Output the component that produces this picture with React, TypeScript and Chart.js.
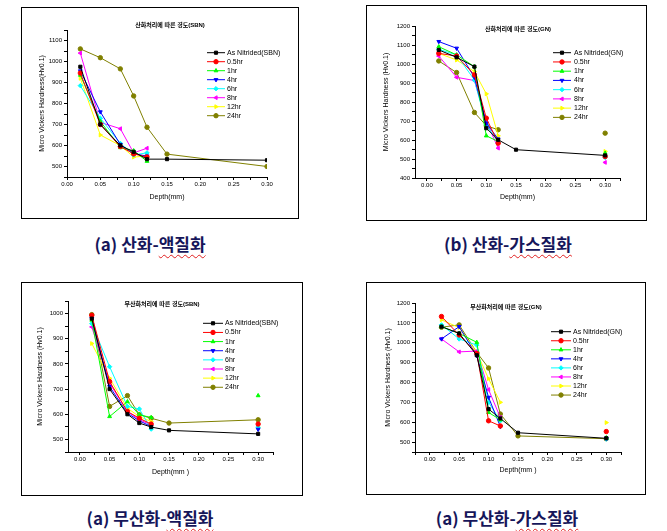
import React, { useEffect, useRef } from 'react';
import { Chart, registerables } from 'chart.js';
import { drawPoint } from 'chart.js/helpers';

Chart.register(...registerables);

// ---------------- data ----------------
const DEPTH = [0.02, 0.05, 0.08, 0.1, 0.12, 0.15, 0.3];
const NAMES_SBN = ['As Nitrided(SBN)', '0.5hr', '1hr', '4hr', '6hr', '8hr', '12hr', '24hr'];
const NAMES_GN = ['As Nitrided(GN)', '0.5hr', '1hr', '4hr', '6hr', '8hr', '12hr', '24hr'];

// (a) 산화-액질화
const OL_ASN = [975, 700, 600, 570, 535, 535, 530];
const OL_05 = [945, 700, 595, 560, 545, null, null];
const OL_1 = [935, 715, 590, 575, 525, null, null];
const OL_4 = [955, 760, 605, 560, 550, null, null];
const OL_6 = [885, 730, 610, 555, 565, null, null];
const OL_8 = [1040, 710, 680, 565, 587, null, null];
const OL_12 = [920, 650, 600, 545, 550, null, null];
const OL_24 = [1060, 1018, 965, 836, 687, 559, 500];

// (b) 산화-가스질화
const OG_ASN = [1074, 1035, 986, 662, 601, 549, 519];
const OG_05 = [1056, 1042, 943, 715, 583, null, 513];
const OG_1 = [1091, 1048, 986, 622, 592, null, 531];
const OG_4 = [1118, 1083, 930, 689, 605, null, 513];
const OG_6 = [1077, 1048, 916, 680, 587, null, 508];
const OG_8 = [1042, 930, 913, 697, 557, null, 482];
const OG_12 = [1056, 1021, 960, 843, 622, null, 540];
const OG_24 = [1016, 955, 745, 675, 654, null, 636];

// (a) 무산화-액질화
const NL_ASN = [980, 700, 600, 565, 549, 536, 522];
const NL_05 = [993, 730, 611, 584, 561, null, 561];
const NL_1 = [974, 591, 650, 598, 587, null, 674];
const NL_4 = [980, 710, 604, 574, 551, null, 540];
const NL_6 = [960, 789, 631, 621, 541, null, 548];
const NL_8 = [947, 723, 611, 578, 558, null, 552];
const NL_12 = [881, 743, 624, 591, 571, null, 548];
const NL_24 = [996, 631, 674, 598, 584, 565, 578];

// (a) 무산화-가스질화
const NG_ASN = [1081, 1047, 937, 666, 619, 547, 519];
const NG_05 = [1132, 1039, 946, 607, 581, null, 553];
const NG_1 = [1081, 1047, 1002, 649, 612, null, 522];
const NG_4 = [1019, 1081, 934, 725, 578, null, 520];
const NG_6 = [1090, 1019, 988, 700, 607, null, 515];
const NG_8 = [1019, 954, 958, 764, 624, null, 518];
const NG_12 = [1115, 1076, 951, 819, 700, null, 598];
const NG_24 = [1078, 1090, 951, 873, 641, 531, 517];

// ---------------- styles ----------------
const FONT = "'Liberation Sans', Arial, 'Noto Sans CJK KR', sans-serif";
const COLORS = ['#000000', '#ff0000', '#00ff00', '#0000ff', '#00ffff', '#ff00ff', '#ffff00', '#808000'];
const MARKERS: { style: any; rot: number }[] = [
  { style: 'rect', rot: 0 },
  { style: 'circle', rot: 0 },
  { style: 'triangle', rot: 0 },
  { style: 'triangle', rot: 180 },
  { style: 'rectRot', rot: 0 },
  { style: 'triangle', rot: -90 },
  { style: 'triangle', rot: 90 },
  { style: 'circle', rot: 0 },
];
const PR = 2.2;

type Cfg = {
  frame: { l: number; t: number; r: number; b: number };
  plot: { l: number; r: number; t: number; b: number };
  yTitleX: number;
  xTitleY: number;
  xMin: number;
  xMax: number;
  yMin: number;
  yMax: number;
  title: string;
  titleX: number;
  titleY: number;
  yTitle: string;
  xTitle: string;
  legend: { x0: number; x1: number; tx: number; y0: number; gap: number };
  names: string[];
  series: (number | null)[][];
};

const CHARTS: Cfg[] = [
  {
    frame: { l: 21, t: 7, r: 298, b: 218 },
    plot: { l: 67, r: 267, t: 30, b: 177 },
    yTitleX: 42, xTitleY: 197,
    xMin: 0, xMax: 0.3, yMin: 450, yMax: 1150,
    title: '산화처리에 따른 경도(SBN)', titleX: 170, titleY: 25,
    yTitle: 'Micro Vickers Hardness(Hv0.1)', xTitle: 'Depth(mm)',
    legend: { x0: 207, x1: 225, tx: 227, y0: 52.7, gap: 9.0 },
    names: NAMES_SBN,
    series: [OL_ASN, OL_05, OL_1, OL_4, OL_6, OL_8, OL_12, OL_24],
  },
  {
    frame: { l: 366, t: 5, r: 646, b: 220 },
    plot: { l: 415, r: 620, t: 26, b: 178 },
    yTitleX: 386, xTitleY: 197.3,
    xMin: -0.02, xMax: 0.325, yMin: 400, yMax: 1200,
    title: '산화처리에 따른 경도(GN)', titleX: 518, titleY: 29,
    yTitle: 'Micro Vickers Hardness (Hv0.1)', xTitle: 'Depth(mm)',
    legend: { x0: 553, x1: 571, tx: 574, y0: 52.7, gap: 9.24 },
    names: NAMES_GN,
    series: [OG_ASN, OG_05, OG_1, OG_4, OG_6, OG_8, OG_12, OG_24],
  },
  {
    frame: { l: 21, t: 282, r: 302, b: 495 },
    plot: { l: 68, r: 273, t: 301, b: 452 },
    yTitleX: 40, xTitleY: 471.7,
    xMin: -0.02, xMax: 0.325, yMin: 450, yMax: 1050,
    title: '무산화처리에 따른 경도(SBN)', titleX: 162, titleY: 304,
    yTitle: 'Micro Vickers Hardness (Hv0.1)', xTitle: 'Depth(mm )',
    legend: { x0: 203, x1: 223, tx: 225, y0: 323.3, gap: 9.14 },
    names: NAMES_SBN,
    series: [NL_ASN, NL_05, NL_1, NL_4, NL_6, NL_8, NL_12, NL_24],
  },
  {
    frame: { l: 366, t: 282, r: 645, b: 494 },
    plot: { l: 415, r: 621, t: 303, b: 452 },
    yTitleX: 388, xTitleY: 470,
    xMin: -0.025, xMax: 0.325, yMin: 450, yMax: 1200,
    title: '무산화처리에 따른 경도(GN)', titleX: 506, titleY: 307,
    yTitle: 'Micro Vickers Hardness (Hv0.1)', xTitle: 'Depth(mm )',
    legend: { x0: 551, x1: 571, tx: 573, y0: 331.7, gap: 9.05 },
    names: NAMES_GN,
    series: [NG_ASN, NG_05, NG_1, NG_4, NG_6, NG_8, NG_12, NG_24],
  },
];

const CAPTIONS = [
  { pre: '(a) 산화-', wavy: '액질화', cx: 150, cy: 244 },
  { pre: '(b) 산화-', wavy: '가스질화', cx: 508, cy: 244 },
  { pre: '(a) 무산화-', wavy: '액질화', cx: 150, cy: 518 },
  { pre: '(a) 무산화-', wavy: '가스질화', cx: 507, cy: 518 },
];

function HardnessChart({ cfg }: { cfg: Cfg }) {
  const ref = useRef<HTMLCanvasElement>(null);
  const W = cfg.frame.r - cfg.frame.l - 1;
  const H = cfg.frame.b - cfg.frame.t - 1;
  const ox = cfg.frame.l + 1;
  const oy = cfg.frame.t + 1;

  useEffect(() => {
    const plotL = cfg.plot.l - ox;
    const plotR = cfg.plot.r - ox;
    const plotT = cfg.plot.t - oy;
    const plotB = cfg.plot.b - oy;
    const titleLH = 7 * 1.2;
    const yScaleLeft = cfg.yTitleX - ox - titleLH / 2;
    const yWidth = plotL - yScaleLeft;
    const xScaleBottom = cfg.xTitleY - oy + titleLH / 2;
    const xHeight = xScaleBottom - plotB;

    const decor = {
      id: 'decor' + cfg.title,
      afterDatasetsDraw(chart: any) {
        const ctx = chart.ctx as CanvasRenderingContext2D;
        ctx.save();
        ctx.fillStyle = '#000';
        ctx.textAlign = 'center';
        ctx.textBaseline = 'middle';
        ctx.font = `bold 6px ${FONT}`;
        ctx.fillText(cfg.title, cfg.titleX - ox, cfg.titleY - oy);
        ctx.font = `7px ${FONT}`;
        ctx.textAlign = 'left';
        const lg = cfg.legend;
        chart.data.datasets.forEach((ds: any, i: number) => {
          const y = lg.y0 - oy + i * lg.gap;
          ctx.strokeStyle = ds.borderColor;
          ctx.lineWidth = 1;
          ctx.beginPath();
          ctx.moveTo(lg.x0 - ox, y);
          ctx.lineTo(lg.x1 - ox, y);
          ctx.stroke();
          ctx.fillStyle = ds.backgroundColor;
          drawPoint(ctx, { pointStyle: ds.pointStyle, rotation: ds.rotation || 0, radius: PR, borderWidth: 1 } as any, (lg.x0 + lg.x1) / 2 - ox, y);
          ctx.fillStyle = '#000';
          ctx.fillText(ds.label, lg.tx - ox, y);
        });
        ctx.restore();
      },
    };

    const datasets = cfg.series.map((vals, i) => ({
      label: cfg.names[i],
      data: DEPTH.map((d, k) => ({ x: d, y: vals[k] })),
      borderColor: COLORS[i],
      backgroundColor: COLORS[i],
      pointBackgroundColor: COLORS[i],
      pointBorderColor: COLORS[i],
      pointStyle: MARKERS[i].style,
      rotation: MARKERS[i].rot,
      pointRotation: MARKERS[i].rot,
      pointRadius: PR,
      pointBorderWidth: 1,
      borderWidth: 1,
      tension: 0,
      spanGaps: false,
      fill: false,
    }));

    const chart = new Chart(ref.current as HTMLCanvasElement, {
      type: 'line',
      data: { datasets } as any,
      plugins: [decor as any],
      options: {
        responsive: false,
        animation: false,
        events: [],
        layout: { padding: { left: yScaleLeft, right: W - plotR, top: plotT, bottom: H - xScaleBottom } },
        plugins: { legend: { display: false }, title: { display: false }, tooltip: { enabled: false } },
        scales: {
          x: {
            type: 'linear',
            min: cfg.xMin,
            max: cfg.xMax,
            afterFit: (s: any) => { s.height = xHeight; },
            border: { display: true, color: '#000', width: 1 },
            grid: { drawOnChartArea: false, drawTicks: true, tickLength: 3, color: '#000', lineWidth: 1 },
            ticks: {
              stepSize: 0.025,
              includeBounds: false,
              autoSkip: false,
              maxRotation: 0,
              minRotation: 0,
              padding: 1,
              color: '#000',
              font: { size: 6, family: FONT },
              callback: (v: any) => {
                const k = Math.round(Number(v) / 0.025);
                return k % 2 === 0 ? (k * 0.025).toFixed(2) : '';
              },
            },
            title: { display: true, text: cfg.xTitle, color: '#000', padding: 0, font: { size: 7, family: FONT } },
          },
          y: {
            type: 'linear',
            min: cfg.yMin,
            max: cfg.yMax,
            afterFit: (s: any) => { s.width = yWidth; },
            border: { display: true, color: '#000', width: 1 },
            grid: { drawOnChartArea: false, drawTicks: true, tickLength: 3, color: '#000', lineWidth: 1 },
            ticks: {
              stepSize: 50,
              includeBounds: false,
              autoSkip: false,
              padding: 2,
              color: '#000',
              font: { size: 6, family: FONT },
              callback: (v: any) => (Math.round(Number(v)) % 100 === 0 ? String(Math.round(Number(v))) : ''),
            },
            title: { display: true, text: cfg.yTitle, color: '#000', padding: 0, font: { size: 7, family: FONT } },
          },
        },
      } as any,
    });
    return () => chart.destroy();
  }, []);

  return (
    <div
      style={{
        position: 'absolute',
        left: cfg.frame.l,
        top: cfg.frame.t,
        width: W + 2,
        height: H + 2,
        border: '1px solid #000',
        boxSizing: 'border-box',
        background: '#fff',
      }}
    >
      <canvas ref={ref} width={W} height={H} style={{ display: 'block', width: W, height: H }} />
    </div>
  );
}

export default function App() {
  return (
    <div style={{ position: 'absolute', left: 0, top: 0, width: 667, height: 531, background: '#fff', overflow: 'hidden' }}>
      {CHARTS.map((c, i) => (
        <HardnessChart key={i} cfg={c} />
      ))}
      {CAPTIONS.map((c, i) => (
        <div
          key={'cap' + i}
          style={{
            position: 'absolute',
            left: c.cx - 120,
            top: c.cy - 12,
            width: 240,
            height: 24,
            lineHeight: '24px',
            textAlign: 'center',
            fontFamily: "'Noto Sans CJK KR', sans-serif",
            fontWeight: 700,
            fontSize: 17,
            color: '#16165a',
            whiteSpace: 'nowrap',
          }}
        >
          {c.pre}
          <span style={{ textDecoration: 'underline wavy #e02020', textDecorationThickness: '1px', textUnderlineOffset: '3px' }}>{c.wavy}</span>
        </div>
      ))}
    </div>
  );
}
